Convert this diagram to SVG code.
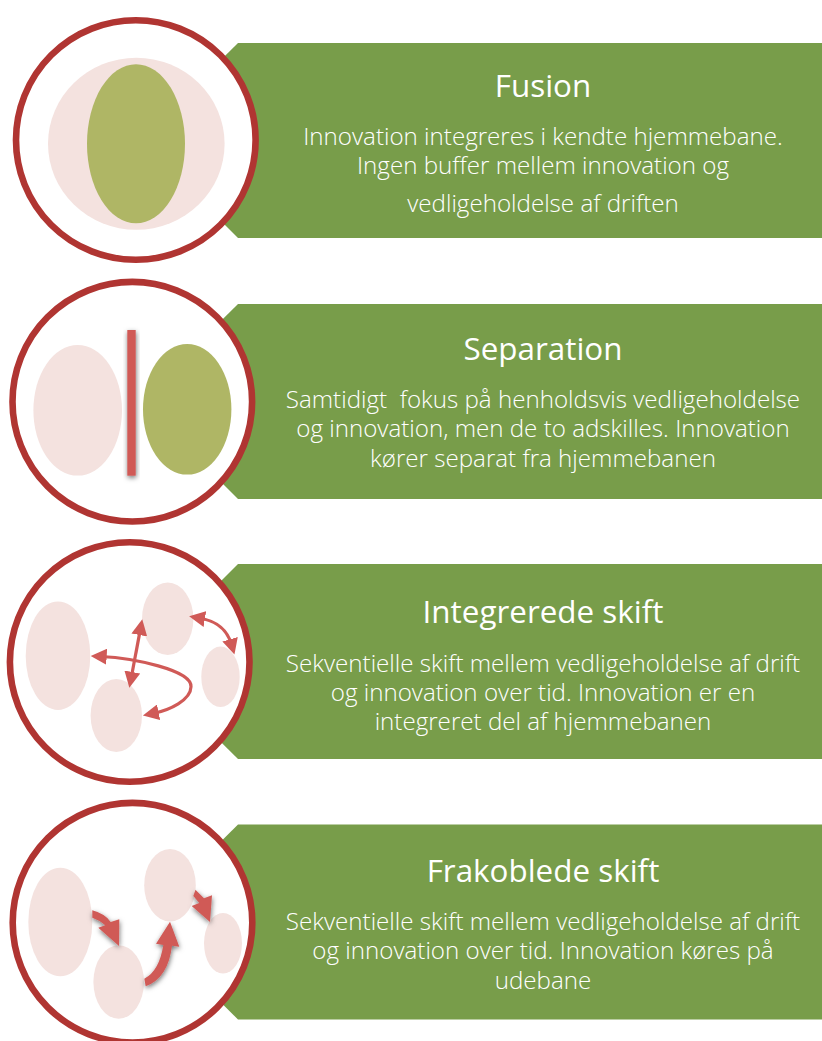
<svg xmlns="http://www.w3.org/2000/svg" width="822" height="1041" viewBox="0 0 822 1041">
<style>
.banner{fill:#789d4a}
.ring{fill:#fff;stroke:#b03532;stroke-width:6.6}
.pink{fill:#f4e2df}
.olive{fill:#afb665}
.title{font-family:"Open Sans","Liberation Sans",sans-serif;font-size:31.4px;fill:#fff;text-anchor:middle}
.body{font-family:"Open Sans","Liberation Sans",sans-serif;font-weight:300;font-size:24.15px;fill:#fff;text-anchor:middle;white-space:pre}
.line{fill:none;stroke:#d05a57;stroke-width:3.2;marker-start:url(#head);marker-end:url(#head)}
.block{fill:#d05a57;filter:url(#shadow)}
</style>
<defs>
<marker id="head" markerUnits="userSpaceOnUse" viewBox="0 0 16 16" markerWidth="16" markerHeight="16" refX="6" refY="8" orient="auto-start-reverse"><path d="M0,0 L16,8 L0,16 Z" fill="#d05a57"/></marker>
<filter id="shadow" x="-40%" y="-40%" width="190%" height="190%"><feDropShadow dx="0.5" dy="2" stdDeviation="2.4" flood-color="#000" flood-opacity="0.55"/></filter>
</defs>

<g id="fusion">
<polygon class="banner" points="238,43 822,43 822,238 238,238 140,140"/>
<circle class="ring" cx="135.8" cy="140" r="119.8"/>
<ellipse class="pink" cx="136.3" cy="143.8" rx="88.3" ry="86"/>
<ellipse class="olive" cx="136" cy="143.8" rx="49" ry="79.5"/>
<text class="title" x="543" y="96.5">Fusion</text>
<text class="body" x="543" y="145">Innovation integreres i kendte hjemmebane.</text>
<text class="body" x="543" y="174">Ingen buffer mellem innovation og</text>
<text class="body" x="543" y="212">vedligeholdelse af driften</text>
</g>

<g id="separation">
<polygon class="banner" points="238,304 822,304 822,499 238,499 140,401"/>
<circle class="ring" cx="132.3" cy="401.7" r="119.8"/>
<ellipse class="pink" cx="77.7" cy="410.3" rx="44.3" ry="65.3"/>
<ellipse class="olive" cx="187.2" cy="409.3" rx="44.2" ry="65.3"/>
<rect class="block" x="127.3" y="330" width="8.4" height="145.7"/>
<text class="title" x="543" y="360">Separation</text>
<text class="body" x="543" y="408">Samtidigt  fokus på henholdsvis vedligeholdelse</text>
<text class="body" x="543" y="437">og innovation, men de to adskilles. Innovation</text>
<text class="body" x="543" y="467">kører separat fra hjemmebanen</text>
</g>

<g id="integrerede-skift">
<polygon class="banner" points="238,564 822,564 822,759 238,759 140,662"/>
<circle class="ring" cx="129.7" cy="662" r="119.8"/>
<ellipse class="pink" cx="58" cy="655.7" rx="32.3" ry="54.3"/>
<ellipse class="pink" cx="167.7" cy="618.8" rx="25.7" ry="36.2"/>
<ellipse class="pink" cx="220.5" cy="676.8" rx="19.2" ry="30.2"/>
<ellipse class="pink" cx="116.3" cy="715.5" rx="25.7" ry="36.5"/>
<text class="title" x="543" y="622.5">Integrerede skift</text>
<text class="body" x="543" y="672">Sekventielle skift mellem vedligeholdelse af drift</text>
<text class="body" x="543" y="701">og innovation over tid. Innovation er en</text>
<text class="body" x="543" y="730">integreret del af hjemmebanen</text>
</g>

<g id="frakoblede-skift">
<polygon class="banner" points="238,824.5 822,824.5 822,1019.5 238,1019.5 140,922"/>
<circle class="ring" cx="132.5" cy="922.7" r="119.8"/>
<ellipse class="pink" cx="60.3" cy="922" rx="32" ry="54.3"/>
<ellipse class="pink" cx="118.7" cy="982" rx="25.3" ry="36.7"/>
<ellipse class="pink" cx="170" cy="885.2" rx="25.8" ry="36.2"/>
<ellipse class="pink" cx="223" cy="943.3" rx="19" ry="30.3"/>
<text class="title" x="543" y="881.5">Frakoblede skift</text>
<text class="body" x="543" y="930">Sekventielle skift mellem vedligeholdelse af drift</text>
<text class="body" x="543" y="959">og innovation over tid. Innovation køres på</text>
<text class="body" x="543" y="989">udebane</text>
</g>

<g id="connectors">
<path class="line" d="M100.7,656.5 C133,658 191.7,670 191,686.7 C190.7,700 170,710 152.7,713.5"/>
<path class="line" d="M140.4,629.1 L131.2,677.9"/>
<path class="line" d="M199,618 C211,620 226,625 231.7,645"/>
<path class="block" d="M92.3,910.3 Q105,913.7 110.7,922 L119.3,919.3 L119,946 L98.3,927.7 L105.3,925.3 Q100,920.3 92.3,917.7 Z"/>
<path class="block" d="M144.3,978.7 Q159.3,971 163.3,945 L156,943.7 L170,921.7 L179.3,946.7 L172,945.7 Q168.3,977.7 145.7,986.3 Z"/>
<path class="block" d="M195.5,889.7 L204,898.3 L212,895.3 L210,922 L191.7,906 L199.3,903 L193.3,896 Z"/>
</g>
</svg>
